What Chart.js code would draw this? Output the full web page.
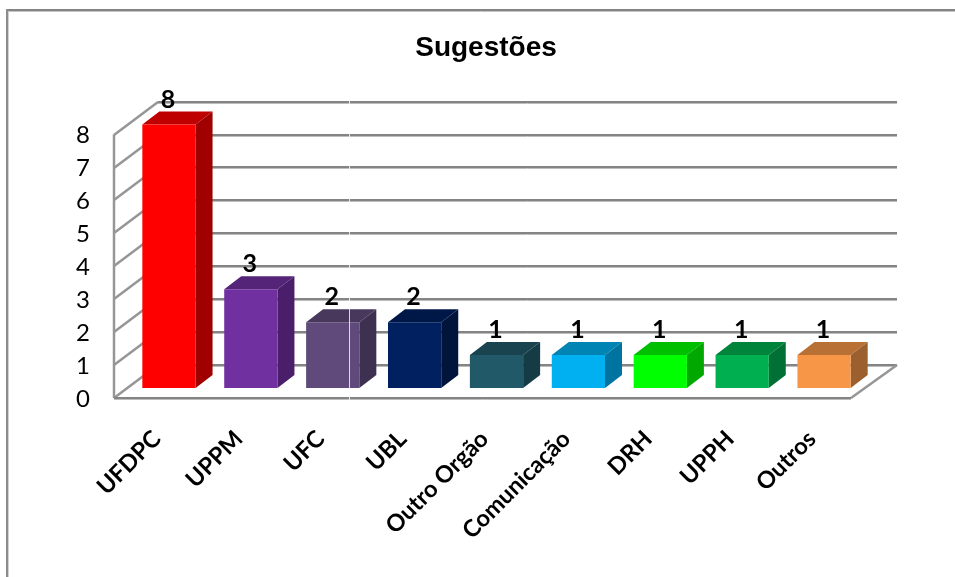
<!DOCTYPE html>
<html>
<head>
<meta charset="utf-8">
<title>Sugestões</title>
<script src="https://cdn.jsdelivr.net/npm/chart.js@4/dist/chart.umd.min.js"></script>
<style>
  html, body { margin: 0; padding: 0; background: #fff; }
  #wrap { position: relative; width: 955px; height: 577px; }
</style>
</head>
<body>
<div id="wrap"><canvas id="chart" width="955" height="577"></canvas></div>
<script>
  // ---- Data ------------------------------------------------
  const categories = ['UFDPC', 'UPPM', 'UFC', 'UBL', 'Outro Orgão', 'Comunicação', 'DRH', 'UPPH', 'Outros'];
  const sugestoes = [8, 3, 2, 2, 1, 1, 1, 1, 1];
  const frontColors = ['#ff0000', '#7030a0', '#604a7b', '#002060', '#215968', '#00b0f0', '#00ff00', '#00b050', '#f79646'];
  const topColors = ['#bf0000', '#542478', '#48385c', '#001848', '#19434e', '#0084b4', '#00bf00', '#00843c', '#b97035'];
  const sideColors = ['#a00000', '#4a1e6a', '#3e3050', '#00143c', '#153b45', '#0074a0', '#00a800', '#007035', '#9c5f2e'];
  const yTicks = [0, 1, 2, 3, 4, 5, 6, 7, 8];

  const FONT = 'Lato, Carlito, sans-serif';
  const GRID = '#848484';
  const GRID_SHADE = '#bdbdbd';

  // ---- 3D box helpers --------------------------------------
  function poly(ctx, pts, color) {
    ctx.fillStyle = color;
    ctx.beginPath();
    pts.forEach((p, i) => (i ? ctx.lineTo(p[0], p[1]) : ctx.moveTo(p[0], p[1])));
    ctx.closePath();
    ctx.fill();
  }

  function seg(ctx, x1, y1, x2, y2, w, color) {
    ctx.strokeStyle = color;
    ctx.lineWidth = w;
    ctx.beginPath();
    ctx.moveTo(x1, y1);
    ctx.lineTo(x2, y2);
    ctx.stroke();
  }

  // walls, grid and the depth faces of the bars
  const depthPlugin = {
    id: 'depth',
    beforeDatasetsDraw(chart) {
      const { ctx } = chart;
      const y = chart.scales.y;
      const left = 114, right = 851;   // front edge of the floor
      const backL = 158, backR = 897;  // back wall
      const dy = 33;

      ctx.save();
      // outer frame, open on the right
      seg(ctx, 6, 10, 955, 10, 2, GRID);
      seg(ctx, 6, 11.5, 955, 11.5, 1, '#c4c4c4');
      seg(ctx, 7, 9, 7, 577, 2, '#8c8c8c');
      seg(ctx, 8.5, 11, 8.5, 577, 1, '#d0d0d0');

      yTicks.forEach((v) => {
        const py = Math.round(y.getPixelForValue(v));
        seg(ctx, backL, py - dy + 1.5, backR, py - dy + 1.5, 1, GRID_SHADE);
        seg(ctx, backL, py - dy, backR, py - dy, 2, GRID);
        seg(ctx, left, py, backL, py - dy, 2.5, '#969696');
      });
      seg(ctx, left, y.getPixelForValue(8), left, y.getPixelForValue(0), 2.5, '#969696');
      seg(ctx, left, y.getPixelForValue(0), right, y.getPixelForValue(0), 2, GRID);
      seg(ctx, left, y.getPixelForValue(0) + 1.5, right, y.getPixelForValue(0) + 1.5, 1, GRID_SHADE);
      seg(ctx, right, y.getPixelForValue(0), backR, y.getPixelForValue(0) - dy, 2.5, '#969696');

      const bars = chart.getDatasetMeta(0).data;
      const bx = 17, by = 13;
      bars.forEach((b, i) => {
        const l = b.x - b.width / 2, r = b.x + b.width / 2;
        poly(ctx, [[l, b.y], [l + bx, b.y - by], [r + bx, b.y - by], [r, b.y]], topColors[i]);
        poly(ctx, [[r, b.y], [r + bx, b.y - by], [r + bx, b.base - by], [r, b.base]], sideColors[i]);
      });
      ctx.restore();
    },
    afterDatasetsDraw(chart) {
      const { ctx } = chart;
      const bars = chart.getDatasetMeta(0).data;
      ctx.save();
      // thin light seam that runs through the picture
      seg(ctx, 349.5, 100, 349.5, 401, 1, 'rgba(255,255,255,0.8)');
      // value labels
      ctx.fillStyle = '#000';
      ctx.font = 'bold 25px ' + FONT;
      ctx.textAlign = 'center';
      ctx.textBaseline = 'middle';
      bars.forEach((b, i) => ctx.fillText(String(sugestoes[i]), b.x - 1, b.y - 25));
      ctx.restore();
    },
  };

  new Chart(document.getElementById('chart'), {
    type: 'bar',
    data: {
      labels: categories,
      datasets: [{
        label: 'Sugestões',
        data: sugestoes,
        yAxisID: 'yBar',
        backgroundColor: frontColors,
        borderWidth: 0,
        barPercentage: 0.65,
        categoryPercentage: 1,
        clip: false,
      }],
    },
    options: {
      responsive: false,
      animation: false,
      devicePixelRatio: 1,
      layout: { padding: { left: 17, right: 0, top: 0, bottom: 0 } },
      plugins: {
        legend: { display: false },
        tooltip: { enabled: false },
        title: {
          display: true,
          text: 'Sugestões',
          color: '#000',
          font: { family: 'Liberation Sans', size: 28, weight: 'bold' },
          padding: { top: 31, bottom: 70 },
        },
      },
      scales: {
        x: {
          grid: { display: false },
          border: { display: false },
          afterFit: (s) => { s.height = 179; },
          ticks: {
            autoSkip: false,
            minRotation: 45,
            maxRotation: 45,
            padding: 19,
            labelOffset: -12,
            color: '#000',
            font: { family: FONT, size: 23.5, weight: 'bold' },
          },
        },
        // front wall of the box: carries the visible value axis
        y: {
          position: 'left',
          min: 0,
          max: 8,
          grid: { display: false },
          border: { display: false },
          afterFit: (s) => { s.width = 111; },
          afterBuildTicks: (s) => { s.ticks = yTicks.map((v) => ({ value: v })); },
          ticks: {
            autoSkip: false,
            padding: 30,
            labelOffset: 1,
            color: '#000',
            font: { family: FONT, size: 24 },
          },
        },
        // bars stand 10px behind the front edge of the floor
        yBar: {
          position: 'right',
          min: -0.304,
          max: 7.696,
          grid: { display: false },
          border: { display: false },
          ticks: { display: false },
          afterFit: (s) => { s.width = 90; },
        },
      },
    },
    plugins: [depthPlugin],
  });
</script>
</body>
</html>
